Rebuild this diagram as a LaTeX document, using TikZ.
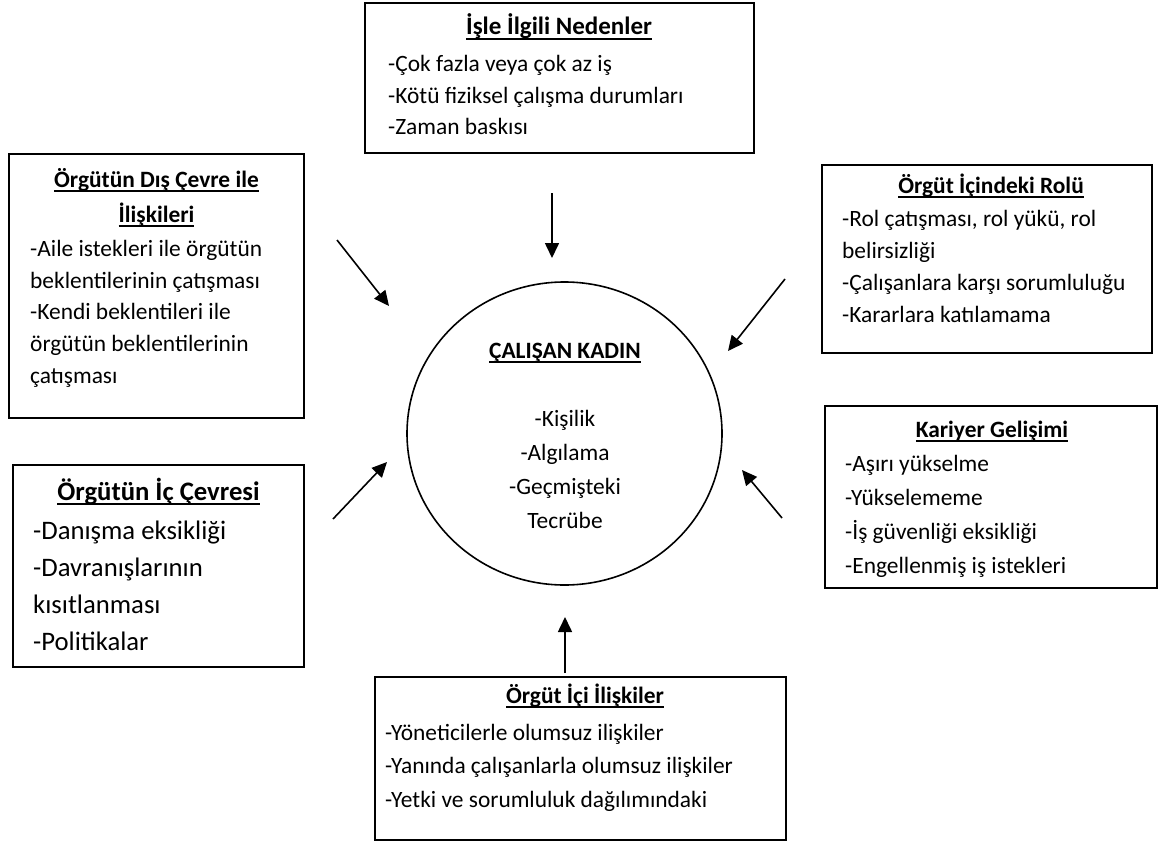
\documentclass[tikz,border=0pt]{standalone}
\usepackage{fontspec}
\setmainfont{Carlito}
\usepackage{tikz}
\usetikzlibrary{arrows.meta,shapes.geometric}

\newcommand{\ulbf}[1]{\setbox0\hbox{\bfseries #1}\rlap{\rule[-4.6pt]{\wd0}{1.4pt}}\box0}

\begin{document}
\begin{tikzpicture}[x=1pt,y=-1pt,
		box/.style={draw, line width=1.6pt, inner sep=0pt},
		head/.style={anchor=base, inner sep=0pt, font=\fontsize{23.4}{32.5}\selectfont},
		body/.style={anchor=base west, align=left, inner sep=0pt, font=\fontsize{23.4}{32.5}\selectfont},
		arr/.style={line width=1.6pt, -{Triangle[length=15pt,width=14pt]}}]
			\useasboundingbox (0,0) rectangle (1161,840);
			% boxes
			\node[box, minimum width=389, minimum height=150] at (559.5,78) (Is) {};
			\node[box, minimum width=295, minimum height=264] at (156.5,286) (Dis) {};
			\node[box, minimum width=330, minimum height=188] at (987,259) (Rol) {};
			\node[box, minimum width=291, minimum height=202] at (158.5,566) (Ic) {};
			\node[box, minimum width=332, minimum height=182] at (991,497) (Kar) {};
			\node[box, minimum width=411, minimum height=163] at (580.5,758.5) (Ili) {};
			\node[draw, ellipse, line width=1.6pt, minimum width=315, minimum height=303] at (564.5,433.5) (Kad) {};
			% texts (body nodes sit on the baseline of their last line)
			\node[head, font=\fontsize{25}{32.5}\selectfont] at (559,35) (IsT) {\ulbf{İşle İlgili Nedenler}};
			\node[body, font=\fontsize{23.4}{31.5}\selectfont] at (388,135) (IsB) {-Çok fazla veya çok az iş\\-Kötü fiziksel çalışma durumları\\-Zaman baskısı};
			\node[head] at (156.5,187) (DisT) {\ulbf{Örgütün Dış Çevre ile}};
			\node[head] at (156.5,222) (DisT2) {\ulbf{İlişkileri}};
			\node[body, font=\fontsize{23.4}{31.6}\selectfont] at (30,383) (DisB) {-Aile istekleri ile örgütün\\beklentilerinin çatışması\\-Kendi beklentileri ile\\örgütün beklentilerinin\\çatışması};
			\node[head] at (991,193) (RolT) {\ulbf{Örgüt İçindeki Rolü}};
			\node[body, font=\fontsize{23.4}{32}\selectfont] at (842,322) (RolB) {-Rol çatışması, rol yükü, rol\\belirsizliği\\-Çalışanlara karşı sorumluluğu\\-Kararlara katılamama};
			\node[head, font=\fontsize{26.7}{37}\selectfont] at (158.5,500) (IcT) {\ulbf{Örgütün İç Çevresi}};
			\node[body, font=\fontsize{26.7}{36.7}\selectfont] at (33,650) (IcB) {-Danışma eksikliği\\-Davranışlarının\\kısıtlanması\\-Politikalar};
			\node[head] at (992,437) (KarT) {\ulbf{Kariyer Gelişimi}};
			\node[body, font=\fontsize{23.4}{33.7}\selectfont] at (845,573) (KarB) {-Aşırı yükselme\\-Yükselememe\\-İş güvenliği eksikliği\\-Engellenmiş iş istekleri};
			\node[head] at (585,703) (IliT) {\ulbf{Örgüt İçi İlişkiler}};
			\node[body, font=\fontsize{23.4}{33.5}\selectfont] at (385,807) (IliB) {-Yöneticilerle olumsuz ilişkiler\\-Yanında çalışanlarla olumsuz ilişkiler\\-Yetki ve sorumluluk dağılımındaki};
			\node[head] at (565,358) (KadT) {\ulbf{ÇALIŞAN KADIN}};
			\node[head, align=center, font=\fontsize{23.4}{33.7}\selectfont] at (565,528) (KadB) {-Kişilik\\-Algılama\\-Geçmişteki\\Tecrübe};
			% arrows
			\coordinate (a0) at (552,193);
			\coordinate (b0) at (552,258);
			\coordinate (a1) at (337,240);
			\coordinate (b1) at (389,306);
			\coordinate (a2) at (333,519);
			\coordinate (b2) at (387,462);
			\coordinate (a3) at (785,279);
			\coordinate (b3) at (728,351);
			\coordinate (a4) at (782,518);
			\coordinate (b4) at (742,470);
			\coordinate (a5) at (565,673);
			\coordinate (b5) at (565,617);
			\draw[arr] (a0) -- (b0);
			\draw[arr] (a1) -- (b1);
			\draw[arr] (a2) -- (b2);
			\draw[arr] (a3) -- (b3);
			\draw[arr] (a4) -- (b4);
			\draw[arr] (a5) -- (b5);
\end{tikzpicture}
\end{document}
